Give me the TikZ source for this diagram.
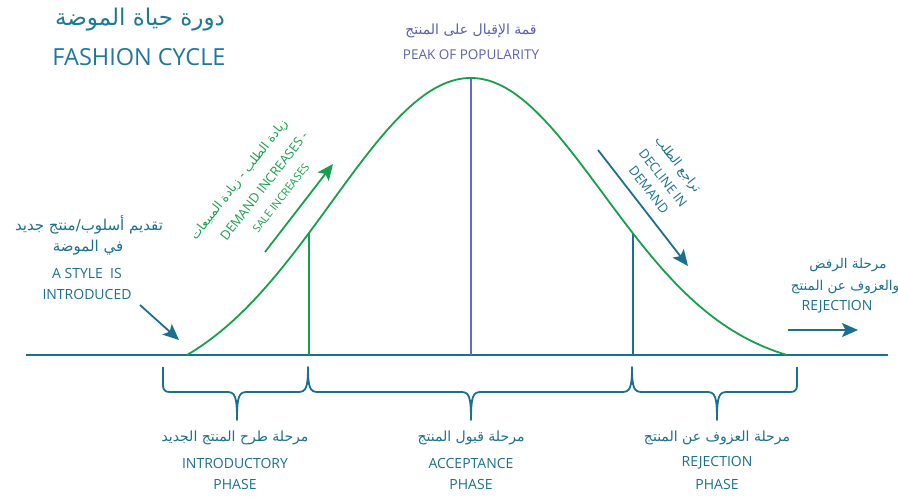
\documentclass[tikz,border=0pt]{standalone}
\usepackage{fontspec}
\setmainfont{Open Sans}
\newfontfamily\arabicfont[Script=Arabic]{DejaVu Sans}
\TeXXeTstate=1
\usetikzlibrary{arrows.meta}
\definecolor{tealc}{HTML}{1B6F8F}
\definecolor{titlec}{HTML}{1F7896}
\definecolor{greenc}{HTML}{17A04C}
\definecolor{purplec}{HTML}{6868D2}
\definecolor{peakc}{HTML}{5A60B2}
\newcommand{\artxt}[1]{{\arabicfont\beginR #1\endR}}
\newcommand{\fs}[1]{\fontsize{#1}{#1}\selectfont}
\begin{document}
\begin{tikzpicture}[x=1pt,y=-1pt,
  txt/.style={inner sep=0pt, anchor=center},
  tealtxt/.style={txt, text=tealc},
  greentxt/.style={txt, text=greenc},
  peaktxt/.style={txt, text=peakc},
  bigarrow/.style={line width=1.8pt, -{Stealth[length=16pt,width=14pt,inset=3.5pt]}},
  braceline/.style={draw=tealc, line width=1.8pt, line join=round}
]
\useasboundingbox (0,0) rectangle (898,496);

% title
\node[txt, text=titlec, font=\fs{23}] (tar) at (140,20) {\artxt{دورة حياة الموضة}};
\node[txt, text=titlec, font=\fs{23.5}] (ten) at (139,57) {FASHION CYCLE};

% peak label
\node[peaktxt, font=\fs{14}] (par) at (471,31) {\artxt{قمة الإقبال على المنتج}};
\node[peaktxt, font=\fs{13.5}] (pen) at (471,55) {PEAK OF POPULARITY};

% baseline
\coordinate (bl) at (26,355);
\coordinate (br) at (888,355);
\draw[tealc, line width=2pt] (bl) -- (br);

% purple peak line
\coordinate (pk) at (471,79);
\coordinate (pkb) at (471,355);
\draw[purplec, line width=1.6pt] (pk) -- (pkb);

% verticals
\coordinate (lv) at (309,233);
\coordinate (lvb) at (309,355);
\coordinate (rv) at (633,233.4);
\coordinate (rvb) at (633,355);
\draw[greenc, line width=1.6pt] (lv) -- (lvb);
\draw[tealc, line width=1.6pt] (rv) -- (rvb);

% curve
\draw[greenc, line width=1.8pt, line join=round]
  plot[domain=187:471, samples=120] (\x, {355-317.6*(exp(-0.5*((\x-471)/140)*((\x-471)/140))-0.1278)})
  -- plot[domain=471:787, samples=120] (\x, {355-293.7*(exp(-0.5*((\x-471)/132)*((\x-471)/132))-0.0570)});

% green arrow and text
\coordinate (ga1) at (265,252);
\coordinate (ga2) at (333,164);
\draw[greenc, bigarrow] (ga1) -- (ga2);
\node[greentxt, font=\fs{12.5}, rotate=52] (g1) at (239.5,180) {\artxt{زيادة الطلب - زيادة المبيعات}};
\node[greentxt, font=\fs{13}, rotate=52] (g2) at (264,186) {DEMAND INCREASES -};
\node[greentxt, font=\fs{11}, rotate=52] (g3) at (281,198) {SALE INCREASES};

% teal decline arrow and text
\coordinate (ta1) at (598,150);
\coordinate (ta2) at (688,266);
\draw[tealc, bigarrow] (ta1) -- (ta2);
\node[tealtxt, font=\fs{12.5}, rotate=-52] (d1) at (677.5,165) {\artxt{تراجع الطلب}};
\node[tealtxt, font=\fs{13}, rotate=-52] (d2) at (663,178) {DECLINE IN};
\node[tealtxt, font=\fs{13}, rotate=-52] (d3) at (649,190) {DEMAND};

% left intro text
\node[tealtxt, font=\fs{15}] (i1) at (89,225) {\artxt{تقديم أسلوب/منتج جديد}};
\node[tealtxt, font=\fs{15}] (i2) at (88,248) {\artxt{في الموضة}};
\node[tealtxt, font=\fs{14}] (i3) at (87,273) {A STYLE\ \ IS};
\node[tealtxt, font=\fs{14}] (i4) at (87,294) {INTRODUCED};
\coordinate (la1) at (140,305);
\coordinate (la2) at (179,340);
\draw[tealc, bigarrow] (la1) -- (la2);

% right rejection text
\node[tealtxt, font=\fs{13.5}] (r1) at (848,265) {\artxt{مرحلة الرفض}};
\node[tealtxt, font=\fs{13.5}] (r2) at (845,287) {\artxt{والعزوف عن المنتج}};
\node[tealtxt, font=\fs{14}] (r3) at (837,307) {REJECTION};
\coordinate (ra1) at (788,330);
\coordinate (ra2) at (858,330);
\draw[tealc, bigarrow] (ra1) -- (ra2);

% braces
\draw[braceline]
  (163,367) -- (163,385) .. controls (163,390) and (165,392) .. (170,392)
  -- (227,392) .. controls (235,392) and (237,396) .. (237,420)
  .. controls (237,396) and (239,392) .. (247,392)
  -- (298,392) .. controls (306,392) and (308,388) .. (308,367)
  .. controls (308,388) and (310,392) .. (318,392)
  -- (461,392) .. controls (469,392) and (471,396) .. (471,420)
  .. controls (471,396) and (473,392) .. (481,392)
  -- (622,392) .. controls (630,392) and (632,388) .. (632,367)
  .. controls (632,388) and (634,392) .. (642,392)
  -- (707,392) .. controls (715,392) and (717,396) .. (717,420)
  .. controls (717,396) and (719,392) .. (727,392)
  -- (790,392) .. controls (795,392) and (797,390) .. (797,385) -- (797,367);

% bottom labels
\node[tealtxt, font=\fs{14}] (b1a) at (235,438) {\artxt{مرحلة طرح المنتج الجديد}};
\node[tealtxt, font=\fs{14}] (b1b) at (235,463) {INTRODUCTORY};
\node[tealtxt, font=\fs{14}] (b1c) at (235,484) {PHASE};
\node[tealtxt, font=\fs{14}] (b2a) at (471,438) {\artxt{مرحلة قبول المنتج}};
\node[tealtxt, font=\fs{14}] (b2b) at (471,463) {ACCEPTANCE};
\node[tealtxt, font=\fs{14}] (b2c) at (471,484) {PHASE};
\node[tealtxt, font=\fs{14}] (b3a) at (717,438) {\artxt{مرحلة العزوف عن المنتج}};
\node[tealtxt, font=\fs{14}] (b3b) at (717,463) {REJECTION};
\node[tealtxt, font=\fs{14}] (b3c) at (717,484) {PHASE};
\end{tikzpicture}
\end{document}
